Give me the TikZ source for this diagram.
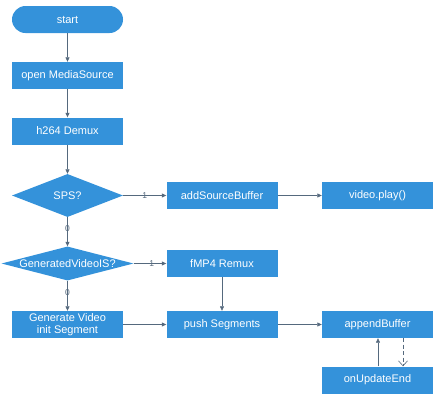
\documentclass[tikz,border=0pt]{standalone}
\usepackage{fontspec}
\setmainfont{Liberation Sans}
\usetikzlibrary{shapes.geometric,arrows.meta}
\definecolor{boxblue}{RGB}{52,146,218}
\definecolor{linegray}{RGB}{85,105,125}
\tikzset{
  box/.style={draw=none,fill=boxblue,text=white,minimum width=111pt,minimum height=27pt,inner sep=1pt,font=\fontsize{11}{12.5}\selectfont,align=center},
  pill/.style={box,rounded corners=13.5pt},
  dia/.style={diamond,draw=none,fill=boxblue,inner sep=0pt,aspect=1},
  dtext/.style={text=white,font=\fontsize{11}{12.5}\selectfont,inner sep=0pt},
  conn/.style={draw=linegray,line width=0.6pt,-{Triangle[length=4.5pt,width=4pt]}},
  dconn/.style={draw=linegray,line width=0.6pt,dashed,dash pattern=on 4pt off 2.5pt,-{Straight Barb[length=5pt,width=9pt]}},
  lab/.style={text=linegray,font=\fontsize{8.5}{9}\selectfont,inner sep=1pt}
}
\begin{document}
\begin{tikzpicture}[x=1pt,y=-1pt]
\useasboundingbox (0,0) rectangle (440,400);
\node[pill] (start) at (67.5,19.5) {start};
\node[box] (open) at (67.5,75.5) {open MediaSource};
\node[box] (demux) at (67.5,131) {h264 Demux};
\node[dia,minimum width=111pt,minimum height=43pt] (sps) at (67.5,195.5) {};
\node[dtext] (spst) at (sps) {SPS?};
\node[box] (asb) at (222,195.5) {addSourceBuffer};
\node[box] (play) at (377.5,195.5) {video.play()};
\node[dia,minimum width=132pt,minimum height=34pt] (gen) at (67.5,263.5) {};
\node[dtext] (gent) at (gen) {GeneratedVideoIS?};
\node[box] (remux) at (222,263.5) {fMP4 Remux};
\node[box] (init) at (67.5,324.5) {Generate Video\\[-1pt]init Segment};
\node[box] (push) at (222,324.5) {push Segments};
\node[box] (append) at (377.5,324.5) {appendBuffer};
\node[box] (upd) at (377.5,380) {onUpdateEnd};
\coordinate (u1) at (378,367);
\coordinate (u2) at (378,338);
\coordinate (d1) at (403,338);
\coordinate (d2) at (403,367);
\draw[conn] (start) -- (open);
\draw[conn] (open) -- (demux);
\draw[conn] (demux) -- (sps);
\draw[conn] (sps) -- node[lab,pos=0.5]{1} (asb);
\draw[conn] (asb) -- (play);
\draw[conn] (sps) -- node[lab,pos=0.4]{0} (gen);
\draw[conn] (gen) -- node[lab,pos=0.55]{1} (remux);
\draw[conn] (gen) -- node[lab,pos=0.4]{0} (init);
\draw[conn] (remux) -- (push);
\draw[conn] (init) -- (push);
\draw[conn] (push) -- (append);
\draw[conn] (upd.north -| u1) -- (append.south -| u2);
\draw[dconn] (append.south -| d1) -- (upd.north -| d2);
\end{tikzpicture}
\end{document}
